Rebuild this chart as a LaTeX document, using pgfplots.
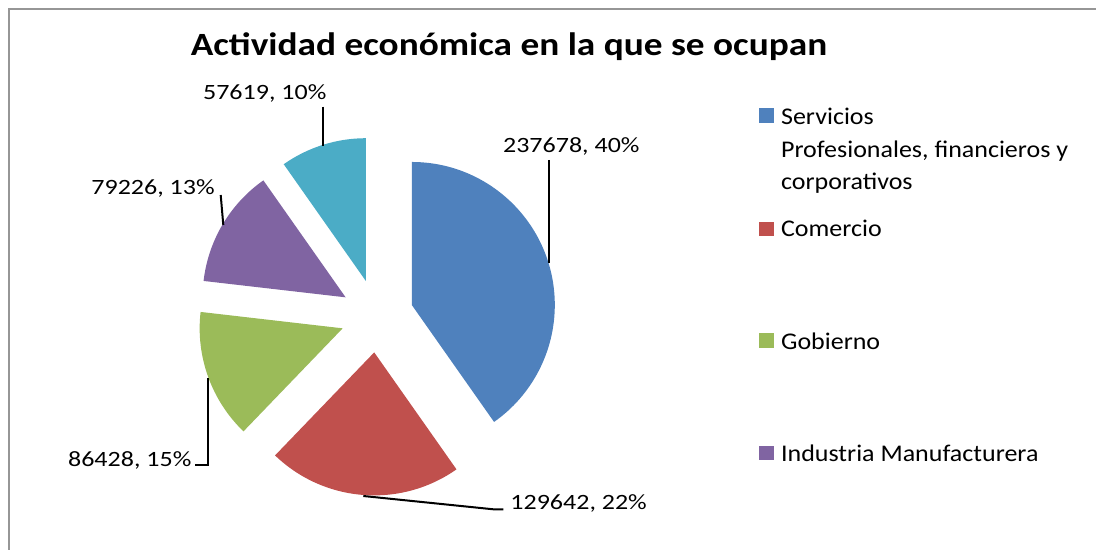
\documentclass[border=0pt]{standalone}
\usepackage{pgfplots}
\pgfplotsset{compat=1.18}
\usepackage{pgfplotstable}
\usepackage{fontspec}
\setmainfont{Carlito}
\usepackage{graphicx}
\definecolor{cA}{HTML}{4F81BD}
\definecolor{cB}{HTML}{C0504D}
\definecolor{cC}{HTML}{9BBB59}
\definecolor{cD}{HTML}{8064A2}
\definecolor{cE}{HTML}{4BACC6}
\definecolor{frame}{RGB}{150,150,150}

\pgfplotstableread{
label value
Servicios 237678
Comercio 129642
Gobierno 86428
Industria 79226
Otros 57619
}\piedata

\newcommand\lab[1]{\scalebox{1}[0.84]{\fontsize{13pt}{15pt}\selectfont #1}}
\newcommand\leg[1]{\scalebox{1}[0.92]{\fontsize{13pt}{15pt}\selectfont #1}}

\pgfplotstablegetelem{0}{value}\of\piedata\let\va\pgfplotsretval
\pgfplotstablegetelem{1}{value}\of\piedata\let\vb\pgfplotsretval
\pgfplotstablegetelem{2}{value}\of\piedata\let\vc\pgfplotsretval
\pgfplotstablegetelem{3}{value}\of\piedata\let\vd\pgfplotsretval
\pgfplotstablegetelem{4}{value}\of\piedata\let\ve\pgfplotsretval
\edef\tot{\fpeval{\va+\vb+\vc+\vd+\ve}}
\edef\aA{90}
\edef\aB{\fpeval{round(\aA-360*\va/\tot,4)}}
\edef\aC{\fpeval{round(\aB-360*\vb/\tot,4)}}
\edef\aD{\fpeval{round(\aC-360*\vc/\tot,4)}}
\edef\aE{\fpeval{round(\aD-360*\vd/\tot,4)}}
\edef\aF{\fpeval{round(\aE-360*\ve/\tot,4)}}
\newcommand\slice[3]{%
  \fill[#1] (axis cs:377,234) ++({(#2+#3)/2}:18.25pt) -- ++(#2:71.5pt)
    arc[start angle=#2, end angle=#3, radius=71.5pt] -- cycle;}

\begin{document}%
\begin{tikzpicture}
\begin{axis}[x=0.5pt, y=0.5pt, xmin=0, xmax=1096, ymin=0, ymax=550, hide axis]
\coordinate (sw) at (axis cs:0,0);
\coordinate (ne) at (axis cs:1096,550);
% frame
\draw[frame, line width=1.1pt] (axis cs:9.3,-5) -- (axis cs:9.3,541.3) -- (axis cs:1100,541.3);
% slices
\slice{cA}{\aA}{\aB}
\slice{cB}{\aB}{\aC}
\slice{cC}{\aC}{\aD}
\slice{cD}{\aD}{\aE}
\slice{cE}{\aE}{\aF}
% title
\node[anchor=base, inner sep=0] at (axis cs:509,494.2)
  {\scalebox{1}[0.87]{\fontsize{18.65pt}{22pt}\selectfont\bfseries Actividad económica en la que se ocupan}};
% leader lines
\draw[black, line width=1pt] (axis cs:323.3,443.3) -- (axis cs:323.3,404);
\draw[black, line width=1pt] (axis cs:548.7,390) -- (axis cs:548.7,287.3);
\draw[black, line width=1pt] (axis cs:220.7,355) -- (axis cs:223.3,325);
\draw[black, line width=1pt] (axis cs:195,85) -- (axis cs:208.3,85) -- (axis cs:208.3,171.7);
\draw[black, line width=1pt] (axis cs:363.3,54) -- (axis cs:493.3,40.7) -- (axis cs:503.3,40.7);
% data labels
\node[anchor=base west, inner sep=0] at (axis cs:202.7,450) {\lab{57619, 10\%}};
\node[anchor=base west, inner sep=0] at (axis cs:502.7,397.3) {\lab{237678, 40\%}};
\node[anchor=base east, inner sep=0] at (axis cs:215,355) {\lab{79226, 13\%}};
\node[anchor=base east, inner sep=0] at (axis cs:191.7,83.3) {\lab{86428, 15\%}};
\node[anchor=base west, inner sep=0] at (axis cs:510,40.7) {\lab{129642, 22\%}};
% legend
\fill[cA] (axis cs:759,427.3) rectangle (axis cs:774,441.7);
\fill[cB] (axis cs:759,314) rectangle (axis cs:774,328.3);
\fill[cC] (axis cs:759,202.3) rectangle (axis cs:774,216.7);
\fill[cD] (axis cs:759,90) rectangle (axis cs:774,104);
\node[anchor=base west, inner sep=0] at (axis cs:780.7,425.7) {\leg{Servicios}};
\node[anchor=base west, inner sep=0] at (axis cs:780.7,392.3) {\leg{Profesionales, financieros y}};
\node[anchor=base west, inner sep=0] at (axis cs:780.7,360.7) {\leg{corporativos}};
\node[anchor=base west, inner sep=0] at (axis cs:780.7,313.3) {\leg{Comercio}};
\node[anchor=base west, inner sep=0] at (axis cs:780.7,200.7) {\leg{Gobierno}};
\node[anchor=base west, inner sep=0] at (axis cs:780.7,88.3) {\leg{Industria Manufacturera}};
\end{axis}
\pgfresetboundingbox
\path[use as bounding box] (sw) rectangle (ne);
\end{tikzpicture}%
\end{document}
